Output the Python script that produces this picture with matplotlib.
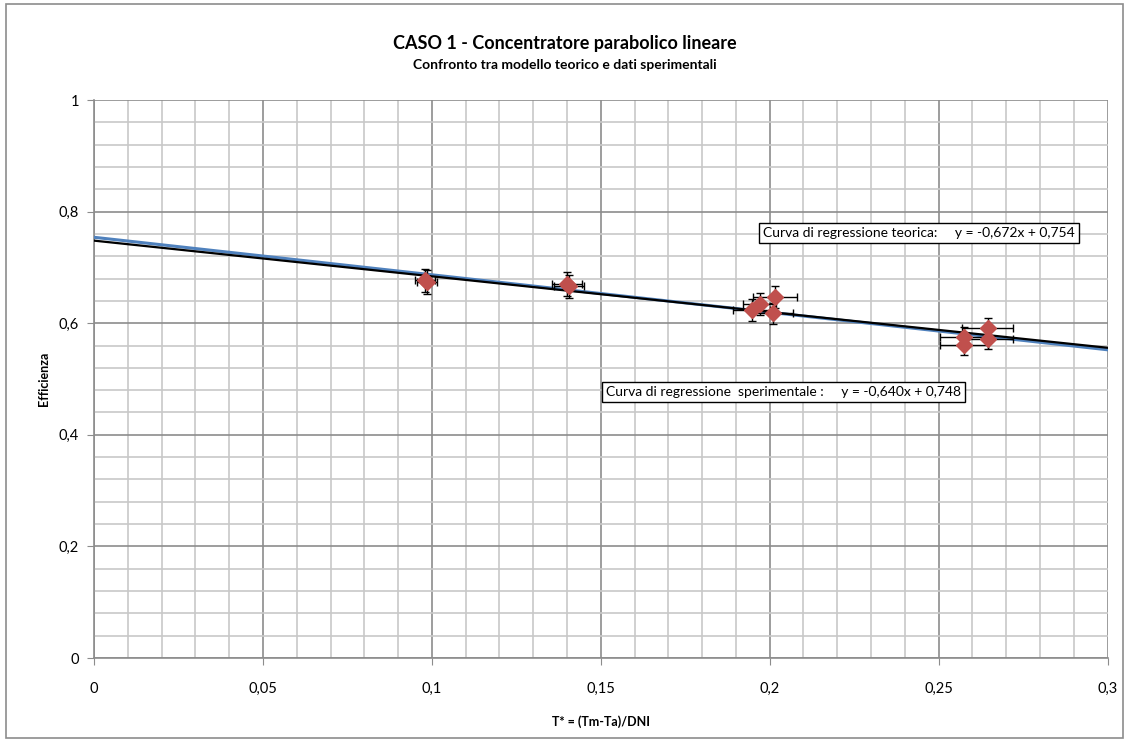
import matplotlib.pyplot as plt
import numpy as np
from matplotlib.ticker import MultipleLocator, FuncFormatter
from matplotlib.patches import Rectangle

plt.rcParams['font.family'] = ['Lato', 'DejaVu Sans']

# experimental points (T*, efficiency) with error bars
x_pts = [0.0980, 0.0985, 0.1400, 0.1405, 0.1947, 0.1970, 0.2015, 0.2010, 0.2575, 0.2575, 0.2645, 0.2645]
y_pts = [0.677, 0.674, 0.670, 0.666, 0.624, 0.634, 0.647, 0.618, 0.576, 0.561, 0.592, 0.572]
x_err = [0.003, 0.003, 0.0045, 0.0045, 0.0055, 0.005, 0.0065, 0.006, 0.007, 0.007, 0.0075, 0.0075]
y_err = [0.021, 0.021, 0.021, 0.021, 0.020, 0.020, 0.019, 0.019, 0.018, 0.018, 0.018, 0.018]

# regression lines
teo_m, teo_q = -0.672, 0.754
spe_m, spe_q = -0.640, 0.748

fig = plt.figure(figsize=(11.29, 7.42), dpi=100)
ax = fig.add_axes([0.0833, 0.1132, 0.8977, 0.7520])

xs = np.array([0, 0.3])
ax.plot(xs, teo_m * xs + teo_q, color='#4F81BD', lw=2.2, zorder=3)
ax.plot(xs, spe_m * xs + spe_q, color='black', lw=1.6, zorder=4)

ax.errorbar(x_pts, y_pts, xerr=x_err, yerr=y_err, fmt='none', ecolor='black',
            elinewidth=1, capsize=3, capthick=1, zorder=5)
ax.plot(x_pts, y_pts, 'D', color='#C0504D', ms=8.5, mec='#C0504D', zorder=6)

ax.set_xlim(0, 0.3)
ax.set_ylim(0, 1)
ax.xaxis.set_major_locator(MultipleLocator(0.05))
ax.xaxis.set_minor_locator(MultipleLocator(0.01))
ax.yaxis.set_major_locator(MultipleLocator(0.2))
ax.yaxis.set_minor_locator(MultipleLocator(0.04))
fmt = FuncFormatter(lambda v, p: ('%g' % round(v, 3)).replace('.', ','))
ax.xaxis.set_major_formatter(fmt)
ax.yaxis.set_major_formatter(fmt)

ax.grid(which='major', color='#8c8c8c', lw=1.2)
ax.grid(which='minor', color='#c8c8c8', lw=1.2)
ax.set_axisbelow(True)
for s in ['top', 'right']:
    ax.spines[s].set_visible(False)
for s in ['left', 'bottom']:
    ax.spines[s].set_color('#8c8c8c')
    ax.spines[s].set_linewidth(1.2)
ax.tick_params(which='major', direction='out', length=5, color='#8c8c8c', labelsize=10.5)
ax.tick_params(which='minor', length=0)
ax.tick_params(axis='x', pad=12)
ax.tick_params(axis='y', pad=6)

ax.set_xlabel('T* = (Tm-Ta)/DNI', fontsize=9, fontweight='bold', labelpad=14)
ax.set_ylabel('Efficienza', fontsize=9, fontweight='bold', labelpad=6)

fig.text(0.5, 0.942, 'CASO 1 - Concentratore parabolico lineare', ha='center', va='center',
         fontsize=13, fontweight='bold')
fig.text(0.5, 0.913, 'Confronto tra modello teorico e dati sperimentali', ha='center', va='center',
         fontsize=10, fontweight='bold')

box = dict(boxstyle='square,pad=0.3', fc='white', ec='black', lw=1)
ax.text(0.198, 0.762, 'Curva di regressione teorica:     y = -0,672x + 0,754', ha='left', va='center',
        fontsize=10, bbox=box, zorder=7)
ax.text(0.1515, 0.477, 'Curva di regressione  sperimentale :     y = -0,640x + 0,748', ha='left', va='center',
        fontsize=10, bbox=box, zorder=7)

fig.patches.append(Rectangle((0.005, 0.005), 0.99, 0.99, transform=fig.transFigure,
                             fill=False, ec='#8c8c8c', lw=1.2))

fig.savefig('out.png', dpi=100)
